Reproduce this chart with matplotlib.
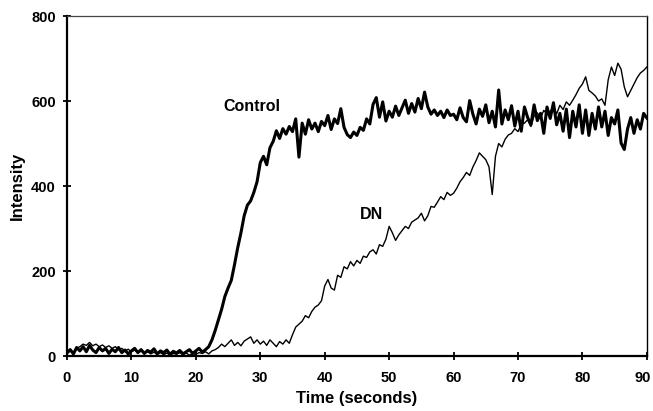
import numpy as np
import matplotlib
matplotlib.use("Agg")
import matplotlib.pyplot as plt
from matplotlib.transforms import ScaledTranslation

# Sampling: one reading every 0.5 s from 0 to 90 s
time_step = 0.5
time_end = 90

# Control trace (10 values per 5 s row)
control = [
    8, 15, 5, 20, 12, 22, 10, 25, 14, 8,
    20, 12, 18, 6, 16, 10, 20, 8, 14, 5,
    12, 18, 8, 15, 6, 13, 9, 17, 5, 12,
    8, 14, 4, 11, 7, 13, 5, 10, 15, 6,
    12, 18, 9, 15, 22, 38, 60, 85, 110, 140,
    160, 178, 215, 255, 290, 330, 355, 365, 385, 410,
    455, 470, 450, 490, 505, 530, 512, 535, 522, 540,
    528, 558, 468, 548, 522, 556, 534, 548, 528, 552,
    542, 566, 533, 558, 547, 582, 538, 521, 514, 527,
    519, 538, 531, 558, 546, 592, 608, 562, 598, 553,
    576, 562, 588, 566, 584, 602, 571, 594, 574, 606,
    582, 621, 586, 569, 579, 566, 576, 561, 579, 566,
    569, 556, 584, 561, 551, 601, 569, 546, 581, 564,
    591, 549, 576, 539, 626, 546, 579, 556, 589, 541,
    576, 529, 586, 561, 544, 591, 554, 571, 524, 586,
    559, 596, 544, 571, 529, 581, 514, 576, 539, 591,
    524, 579, 519, 571, 534, 586, 539, 576, 519, 561,
    546, 579, 501, 486, 534, 561, 524, 556, 534, 571,
    560,
]

# DN trace
dn = [
    5, 12, 8, 18, 22, 28, 25, 32, 24, 28,
    22, 26, 20, 24, 18, 22, 15, 18, 12, 16,
    10, 14, 8, 12, 6, 10, 5, 9, 4, 8,
    3, 7, 2, 6, 4, 8, 3, 7, 2, 5,
    4, 8, 6, 10, 5, 12, 15, 20, 28, 22,
    30, 38, 25, 32, 24, 35, 40, 45, 30, 38,
    28, 35, 25, 38, 30, 22, 34, 28, 38, 30,
    50, 68, 75, 82, 95, 90, 105, 115, 120, 130,
    165, 180, 160, 155, 190, 185, 210, 205, 222, 212,
    225, 218, 235, 232, 245, 250, 240, 262, 258, 275,
    305, 290, 272, 285, 295, 305, 300, 315, 320, 325,
    336, 318, 330, 352, 350, 362, 375, 368, 385, 378,
    383, 395, 410, 420, 432, 425, 445, 460, 478, 470,
    462, 445, 380, 470, 500, 492, 510, 520, 524, 535,
    528, 545, 548, 556, 540, 565, 572, 560, 578, 570,
    575, 585, 570, 590, 580, 598, 590, 602, 615, 630,
    640, 657, 625, 619, 612, 600, 605, 590, 650, 680,
    660, 689, 675, 633, 610, 625, 640, 655, 666, 672,
    680,
]

x_ticks = [0, 10, 20, 30, 40, 50, 60, 70, 80, 90]
y_ticks = [0, 200, 400, 600, 800]

time = np.arange(len(control)) * time_step

plt.rcParams['font.family'] = ['Liberation Sans', 'DejaVu Sans']
plt.rcParams['font.weight'] = 'bold'

fig = plt.figure(figsize=(6.53, 4.11), dpi=100)
ax = fig.add_axes([0.1026, 0.1338, 0.888, 0.8272])

ax.plot(time, control, color='black', linewidth=2.2)
ax.plot(time, dn, color='black', linewidth=1.0)

ax.set_xlim(0, time_end)
ax.set_ylim(0, 800)
ax.set_xticks(x_ticks)
ax.set_yticks(y_ticks)
ax.tick_params(direction='inout', length=6, width=1.3, labelsize=10.5, color='black')
ax.tick_params(axis='x', pad=8)
ax.tick_params(axis='y', pad=5)
for lbl in ax.get_xticklabels() + ax.get_yticklabels():
    lbl.set_fontweight('bold')

# nudge the last x label so it stays inside the figure
last = ax.get_xticklabels()[-1]
last.set_transform(last.get_transform() + ScaledTranslation(-3 / 72, 0, fig.dpi_scale_trans))

# Spines: heavy left/bottom, thin right, faint top
ax.spines['left'].set_linewidth(1.6)
ax.spines['bottom'].set_linewidth(1.6)
ax.spines['right'].set_linewidth(1.0)
ax.spines['top'].set_linewidth(0.9)
ax.spines['top'].set_color('#444444')

ax.set_xlabel('Time (seconds)', fontsize=12, fontweight='bold', va='center')
ax.xaxis.set_label_coords(0.5, -0.126)
ax.set_ylabel('Intensity', fontsize=12, fontweight='bold', va='center')
ax.yaxis.set_label_coords(-0.086, 0.5)

# Curve labels
ax.text(28.7, 586, 'Control', fontsize=11.5, fontweight='bold', ha='center', va='center')
ax.text(47.2, 334, 'DN', fontsize=11.5, fontweight='bold', ha='center', va='center')

fig.savefig('out.png', dpi=100)
